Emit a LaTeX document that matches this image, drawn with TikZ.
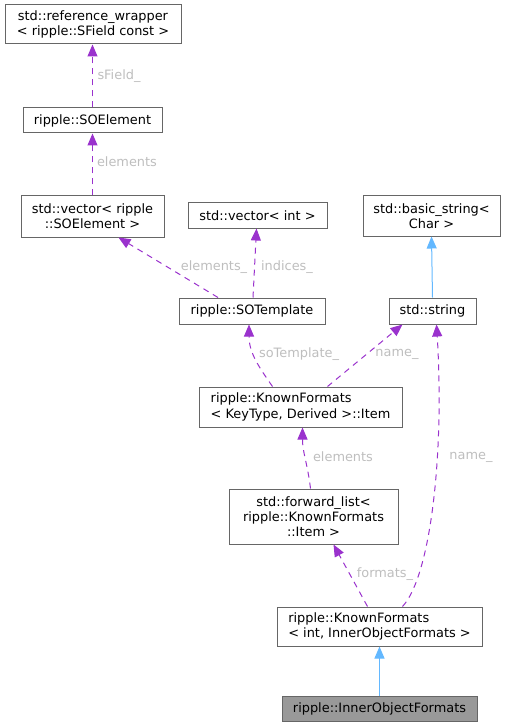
\documentclass[tikz,border=0pt]{standalone}
\usepackage{fontspec}
\setmainfont{DejaVu Sans}
\usetikzlibrary{arrows.meta}
\definecolor{dxborder}{HTML}{666666}
\definecolor{dxuse}{HTML}{9A32CD}
\definecolor{dxinh}{HTML}{63B8FF}
\definecolor{dxlabel}{HTML}{BEBEBE}
\definecolor{dxfill}{HTML}{999999}

\begin{document}
\begin{tikzpicture}[
    x=1pt, y=-1pt,
    cls/.style={draw=dxborder, line width=1pt, fill=white, inner sep=0pt,
      font=\fontsize{12.9}{15.3}\selectfont, align=center},
    uses/.style={draw=dxuse, line width=1pt, dash pattern=on 6pt off 5pt,
      -{Triangle[length=12pt, width=10pt, fill=dxuse]}},
    inh/.style={draw=dxinh, line width=1pt,
      -{Triangle[length=12pt, width=10pt, fill=dxinh]}},
    lbl/.style={font=\fontsize{12.9}{15.3}\selectfont, text=dxlabel},
  ]
  \useasboundingbox (0,0) rectangle (507,727);

  % classes, top to bottom
  \node[cls, minimum width=176pt, minimum height=39pt] (refw) at (93,24.5)
    {std::reference\_wrapper\\< ripple::SField const >};
  \node[cls, minimum width=139pt, minimum height=25pt] (soel) at (92.5,120.5)
    {ripple::SOElement};
  \node[cls, minimum width=143pt, minimum height=41pt] (vecso) at (92.5,216.5)
    {std::vector< ripple\\::SOElement >};
  \node[cls, minimum width=139pt, minimum height=25pt] (vecint) at (257.5,215.5)
    {std::vector< int >};
  \node[cls, minimum width=137pt, minimum height=40pt] (bstr) at (431.5,216)
    {std::basic\_string<\\Char >};
  \node[cls, minimum width=146pt, minimum height=26pt] (sotpl) at (252,311)
    {ripple::SOTemplate};
  \node[cls, minimum width=87pt, minimum height=26pt] (str) at (432.5,311)
    {std::string};
  \node[cls, minimum width=203pt, minimum height=40pt, align=left] (item) at (300.5,407)
    {ripple::KnownFormats\\< KeyType, Derived >::Item};
  \node[cls, minimum width=169pt, minimum height=55pt] (fwd) at (313.5,516.5)
    {std::forward\_list<\\ ripple::KnownFormats\\::Item >};
  \node[cls, minimum width=205pt, minimum height=39pt, align=left] (kfint) at (379.5,626.5)
    {ripple::KnownFormats\\< int, InnerObjectFormats >};
  \node[cls, fill=dxfill, minimum width=195pt, minimum height=25pt] (iof) at (379.5,708.5)
    {ripple::InnerObjectFormats};

  % inheritance
  \draw[inh] (str.north) -- (bstr.south);
  \draw[inh] (iof.north) -- (kfint.north |- kfint.south);

  % members
  \draw[uses] (soel.north) -- (soel.north |- refw.south);
  \draw[uses] (vecso.north) -- (soel.south);
  \draw[uses] ([xshift=-34]sotpl.north) -- ([xshift=26]vecso.south);
  \draw[uses] ([xshift=1]sotpl.north) -- ([xshift=-1]vecint.south);
  \draw[uses] ([xshift=-28]item.north) .. controls +(-14,-20) and +(0,28) .. ([xshift=-3]sotpl.south);
  \draw[uses] ([xshift=27]item.north) -- ([xshift=-30]str.south);
  \draw[uses] ([xshift=-3]fwd.north) .. controls +(-3,-25) and +(0,25) .. ([xshift=2]item.south);
  \draw[uses] ([xshift=-12]kfint.north) -- ([xshift=20]fwd.south);
  \draw[uses] ([xshift=23]kfint.north) .. controls +(28,-30) and +(8,130) .. ([xshift=4]str.south);

  % member names
  \node[lbl] (l1) at (119,76) {sField\_};
  \node[lbl] (l2) at (127,162) {elements};
  \node[lbl] (l3) at (214,267) {elements\_};
  \node[lbl] (l4) at (287,267) {indices\_};
  \node[lbl] (l5) at (299,354) {soTemplate\_};
  \node[lbl] (l6) at (397,354) {name\_};
  \node[lbl] (l7) at (343,457) {elements};
  \node[lbl] (l8) at (471,457) {name\_};
  \node[lbl] (l9) at (385,574) {formats\_};
\end{tikzpicture}
\end{document}
